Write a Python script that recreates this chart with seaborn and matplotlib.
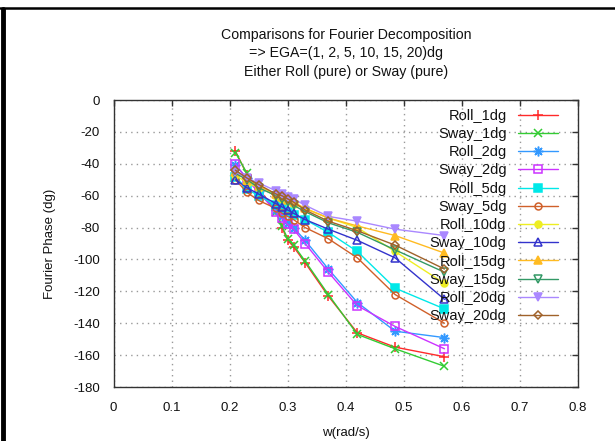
import numpy as np
import pandas as pd
import matplotlib
matplotlib.use("Agg")
import matplotlib.pyplot as plt
import seaborn as sns
from matplotlib.lines import Line2D

# ---- data -------------------------------------------------------------
w = [0.21, 0.23, 0.25, 0.28, 0.29, 0.30, 0.31, 0.33, 0.37, 0.42, 0.485, 0.57]

roll_1dg  = [-32, -47, -56, -69, -80, -88, -92, -102, -123, -146, -155, -161]
sway_1dg  = [-33, -46, -57, -70, -79, -87, -91, -101, -122, -147, -156, -167]
roll_2dg  = [-41, -49, -57, -69, -73, -77, -80, -88, -106, -127, -145, -149]
sway_2dg  = [-40, -50, -58, -70, -74, -78, -81, -90, -108, -129, -142, -156]
roll_5dg  = [-48, -56, -60, -66, -68, -70, -72, -75, -83, -95, -118, -131]
sway_5dg  = [-50, -58, -63, -68, -71, -73, -75, -80, -87, -99, -122, -140]
roll_10dg = [-47, -52, -55, -60, -62, -63, -65, -68, -74, -80, -95, -115]
sway_10dg = [-50, -55, -59, -65, -67, -69, -71, -75, -81, -88, -99, -125]
roll_15dg = [-45, -50, -54, -59, -61, -63, -64, -68, -74, -79, -85, -96]
sway_15dg = [-46, -50, -55, -60, -62, -64, -66, -70, -77, -83, -94, -108]
roll_20dg = [-45, -49, -52, -57, -59, -61, -62, -66, -73, -76, -81, -85]
sway_20dg = [-44, -49, -53, -59, -60, -62, -64, -69, -76, -82, -91, -106]

labels = ["Roll_1dg", "Sway_1dg", "Roll_2dg", "Sway_2dg", "Roll_5dg", "Sway_5dg",
          "Roll_10dg", "Sway_10dg", "Roll_15dg", "Sway_15dg", "Roll_20dg", "Sway_20dg"]
series = [roll_1dg, sway_1dg, roll_2dg, sway_2dg, roll_5dg, sway_5dg,
          roll_10dg, sway_10dg, roll_15dg, sway_15dg, roll_20dg, sway_20dg]

xticks = [0, 0.1, 0.2, 0.3, 0.4, 0.5, 0.6, 0.7, 0.8]
xticklabels = ["0", "0.1", "0.2", "0.3", "0.4", "0.5", "0.6", "0.7", "0.8"]
yticks = [-180, -160, -140, -120, -100, -80, -60, -40, -20, 0]

title = "Comparisons for Fourier Decomposition\n=> EGA=(1, 2, 5, 10, 15, 20)dg\nEither Roll (pure) or Sway (pure)"

# ---- styles -----------------------------------------------------------
colors = ["#ff2a2a", "#33cc33", "#3399ff", "#cc33ff", "#00e8e8", "#d0602a",
          "#eeee22", "#3333cc", "#ffbb22", "#339966", "#aa88ff", "#a0622a"]
markers = ["+", "x", (8, 2, 0), "s", "s", "o", "o", "^", "^", "v", "v", "D"]
filled = [True, True, True, False, True, False, True, False, True, False, True, False]
msizes = [7, 6, 7, 6, 6, 5, 5, 6, 6, 6, 6, 4]

sns.set_theme(style="white")
plt.rcParams["font.family"] = ["Liberation Sans", "DejaVu Sans"]
plt.rcParams["axes.unicode_minus"] = False

fig = plt.figure(figsize=(6.15, 4.41), dpi=100)
ax = fig.add_axes([0.1846, 0.1224, 0.7552, 0.6508])

df = pd.DataFrame({"w": np.tile(w, len(labels)),
                   "phase": np.concatenate(series),
                   "name": np.repeat(labels, len(w))})

for lab, c, m, f, ms in zip(labels, colors, markers, filled, msizes):
    sub = df[df["name"] == lab]
    sns.lineplot(data=sub, x="w", y="phase", ax=ax, color=c, marker=m,
                 markersize=ms, linewidth=1.0, label=lab,
                 markerfacecolor=(c if f else "none"), markeredgecolor=c,
                 markeredgewidth=1.1, estimator=None, sort=False)

ax.set_xlim(0, 0.8)
ax.set_ylim(-180, 0)
ax.set_xticks(xticks)
ax.set_xticklabels(xticklabels)
ax.set_yticks(yticks)
ax.grid(True, linestyle=(0, (1, 3)), color="#999999", linewidth=1.0)
ax.tick_params(direction="in", length=4, width=1, color="#333333",
               labelsize=9.5, top=True, right=True, labelcolor="#111111")
ax.tick_params(axis="x", pad=11)
ax.tick_params(axis="y", pad=10)
for s in ax.spines.values():
    s.set_color("#333333")
    s.set_linewidth(1.0)

ax.set_xlabel("w(rad/s)", fontsize=9.5, color="#111111", labelpad=9)
ax.set_ylabel("Fourier Phase (dg)", fontsize=9.5, color="#111111", labelpad=12)
ax.set_title(title, fontsize=10.2, color="#111111", linespacing=1.45, pad=17)

leg = ax.legend(loc="upper right", markerfirst=False, frameon=False,
                fontsize=10.5, handlelength=2.7, labelspacing=0.29,
                borderaxespad=0.2, handletextpad=0.8, bbox_to_anchor=(0.975, 1.0))
for t in leg.get_texts():
    t.set_ha("right")
    t.set_color("#111111")
leg._legend_box.align = "right"

# frame border lines of the original screenshot
fig.add_artist(Line2D([0, 1], [1 - 8 / 441, 1 - 8 / 441], color="black",
                      linewidth=1.8, transform=fig.transFigure))
fig.add_artist(Line2D([2.5 / 615, 2.5 / 615], [0, 1 - 9 / 441], color="black",
                      linewidth=3.5, transform=fig.transFigure))

fig.savefig("out.png", dpi=100)
